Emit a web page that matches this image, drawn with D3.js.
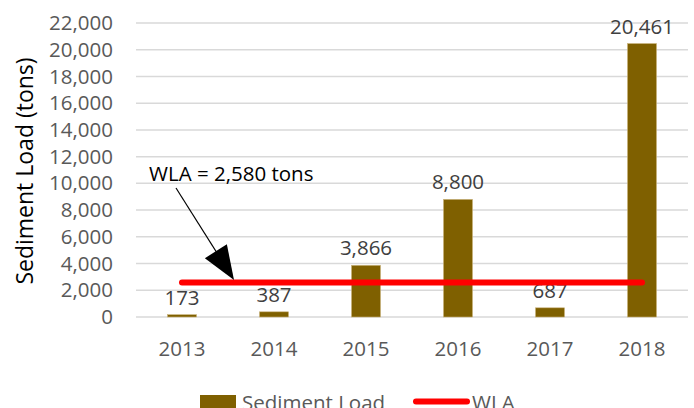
<!DOCTYPE html>
<html>
<head>
<meta charset="utf-8">
<script src="https://cdn.jsdelivr.net/npm/d3@7"></script>
<style>
  body { margin: 0; background: #fff; }
  svg { font-family: "Open Sans", sans-serif; }
</style>
</head>
<body>
<svg id="chart" width="694" height="408"></svg>
<script>
// Chart data
const years = ["2013", "2014", "2015", "2016", "2017", "2018"];
const sedimentLoad = [173, 387, 3866, 8800, 687, 20461];
const wla = 2580;
const yTicks = [0, 2000, 4000, 6000, 8000, 10000, 12000, 14000, 16000, 18000, 20000, 22000];

// Layout
let margin = { top: 23, right: 6, bottom: 91, left: 136 };
const width = 694 - margin.left - margin.right;
const height = 408 - margin.top - margin.bottom;

let svg = d3.select("#chart");
let g = svg.append("g").attr("transform", `translate(${margin.left},${margin.top})`);

// Scales
const x = d3.scaleBand().domain(years).range([0, width]).paddingInner(0.685).paddingOuter(0.3425);
const y = d3.scaleLinear().domain([0, 22000]).range([height, 0]);
const fmt = d3.format(",");

// Gridlines
g.selectAll(".grid")
  .data(yTicks)
  .enter()
  .append("line")
  .attr("x1", 0)
  .attr("x2", width)
  .attr("y1", (d) => y(d))
  .attr("y2", (d) => y(d))
  .attr("stroke", "#d9d9d9")
  .attr("stroke-width", 1.5);

// Y axis labels
let yAxis = g.append("g").call(d3.axisLeft(y).tickValues(yTicks).tickFormat(fmt).tickSize(0).tickPadding(23));
yAxis.select(".domain").remove();
yAxis.selectAll("text").attr("font-size", "20.5px").attr("fill", "#595959").attr("font-family", "Open Sans");

// X axis labels
let xAxis = g.append("g").attr("transform", `translate(0,${height})`).call(d3.axisBottom(x).tickSize(0).tickPadding(24));
xAxis.select(".domain").remove();
xAxis.selectAll("text").attr("font-size", "20.5px").attr("fill", "#595959").attr("font-family", "Open Sans");

// Bars
g.selectAll(".bar")
  .data(years)
  .enter()
  .append("rect")
  .attr("class", "bar")
  .attr("x", (d) => x(d))
  .attr("width", x.bandwidth())
  .attr("y", (d, i) => y(sedimentLoad[i]))
  .attr("height", (d, i) => height - y(sedimentLoad[i]))
  .attr("fill", "#7f6000")
  .attr("stroke", "#c9b27a")
  .attr("stroke-width", 0.6);

// Data labels
g.selectAll(".lbl")
  .data(years)
  .enter()
  .append("text")
  .attr("x", (d) => x(d) + x.bandwidth() / 2)
  .attr("y", (d, i) => y(sedimentLoad[i]) - 10)
  .attr("text-anchor", "middle")
  .attr("font-size", "20.5px")
  .attr("fill", "#404040")
  .text((d, i) => fmt(sedimentLoad[i]));

// WLA line
g.append("line")
  .attr("x1", x(years[0]) + x.bandwidth() / 2)
  .attr("x2", x(years[years.length - 1]) + x.bandwidth() / 2)
  .attr("y1", y(wla))
  .attr("y2", y(wla))
  .attr("stroke", "#ff0000")
  .attr("stroke-width", 6)
  .attr("stroke-linecap", "round");

// Annotation with arrow
const tipX = x(years[0]) + x.bandwidth() / 2 + 52;
const tipY = y(wla) - 2.5;
const startX = tipX - 58;
const startY = tipY - 92;
g.append("line")
  .attr("x1", startX)
  .attr("y1", startY)
  .attr("x2", tipX - 10)
  .attr("y2", tipY - 16)
  .attr("stroke", "#000")
  .attr("stroke-width", 1.2);
const ang = Math.atan2(tipY - startY, tipX - startX);
const headLen = 34, headHalf = 13;
const bx = tipX - headLen * Math.cos(ang), by = tipY - headLen * Math.sin(ang);
g.append("path")
  .attr("d", d3.line()([
    [tipX, tipY],
    [bx + headHalf * Math.sin(ang), by - headHalf * Math.cos(ang)],
    [bx - headHalf * Math.sin(ang), by + headHalf * Math.cos(ang)]
  ]) + "Z")
  .attr("fill", "#000");
g.append("text")
  .attr("x", 149 - margin.left)
  .attr("y", 181 - margin.top)
  .attr("font-size", "20.5px")
  .attr("fill", "#000")
  .text("WLA = " + fmt(wla) + " tons");

// Y axis title
svg.append("text")
  .attr("transform", "translate(33,171) rotate(-90)")
  .attr("text-anchor", "middle")
  .attr("font-size", "23px")
  .attr("fill", "#000")
  .text("Sediment Load (tons)");

// Legend
let legend = svg.append("g").attr("transform", "translate(200,0)");
legend.append("rect")
  .attr("x", 0).attr("y", 395).attr("width", 36).attr("height", 20)
  .attr("fill", "#7f6000");
legend.append("text")
  .attr("x", 42).attr("y", 410)
  .attr("font-size", "20.5px").attr("fill", "#595959")
  .text("Sediment Load");
legend.append("line")
  .attr("x1", 216).attr("x2", 267).attr("y1", 401.5).attr("y2", 401.5)
  .attr("stroke", "#ff0000").attr("stroke-width", 6).attr("stroke-linecap", "round");
legend.append("text")
  .attr("x", 272).attr("y", 410)
  .attr("font-size", "20.5px").attr("fill", "#595959")
  .text("WLA");
</script>
</body>
</html>
